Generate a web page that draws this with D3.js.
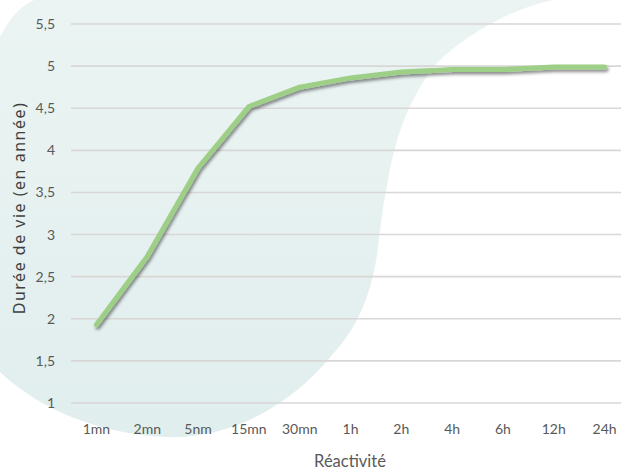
<!DOCTYPE html>
<html lang="fr">
    <head>
        <meta charset="utf-8">
        <title>Durée de vie</title>
        <script src="https://d3js.org/d3.v7.min.js"></script>
        <style type="text/css">
            body { margin: 0; background: #fff; }
            .axis text { font-family: Lato, "Open Sans", sans-serif; fill: #595959; }
        </style>
    </head>
    <body>
        <script type="text/javascript">

            const w = 621;
            const h = 471;

            // data
            const categories = ["1mn", "2mn", "5nm", "15mn", "30mn", "1h", "2h", "4h", "6h", "12h", "24h"];
            const duree = [1.93, 2.74, 3.79, 4.52, 4.75, 4.86, 4.93, 4.96, 4.96, 4.99, 4.99];
            const yTicks = [1, 1.5, 2, 2.5, 3, 3.5, 4, 4.5, 5, 5.5];

            const xScale = d3.scaleBand()
                             .domain(categories)
                             .range([71, 630]);

            const yScale = d3.scaleLinear()
                             .domain([1, 5.5])
                             .range([403, 24]);

            const svg = d3.select("body")
                          .append("svg")
                          .attr("width", w)
                          .attr("height", h);

            const defs = svg.append("defs");
            const grad = defs.append("linearGradient")
                             .attr("id", "blobGrad")
                             .attr("x1", 0).attr("y1", 0).attr("x2", 0).attr("y2", 1);
            grad.append("stop").attr("offset", "0%").attr("stop-color", "#ebf4f3");
            grad.append("stop").attr("offset", "100%").attr("stop-color", "#e0eeed");

            const shadow = defs.append("filter")
                               .attr("id", "shadow")
                               .attr("x", "-10%").attr("y", "-10%")
                               .attr("width", "120%").attr("height", "130%");
            shadow.append("feDropShadow")
                  .attr("dx", 1.5)
                  .attr("dy", 2.5)
                  .attr("stdDeviation", 1.6)
                  .attr("flood-color", "#000")
                  .attr("flood-opacity", 0.45);

            // decorative background shape
            svg.append("path")
               .attr("d", "M0,37 C10,18 20,6 34,0 L553,0 C505,10 460,40 438,62 " +
                          "C410,95 396,135 388,180 C381,215 380,235 377,255 " +
                          "C370,300 355,330 332,355 C300,395 240,440 167,437 " +
                          "C100,434 40,410 0,372 Z")
               .style("fill", "url(#blobGrad)");

            // gridlines
            svg.append("g")
               .selectAll("line")
               .data(yTicks)
               .enter()
               .append("line")
               .attr("x1", 71)
               .attr("x2", w)
               .attr("y1", d => yScale(d))
               .attr("y2", d => yScale(d))
               .style("stroke", "#d9d6d6")
               .style("stroke-width", 1.6);

            const leftAxis = d3.axisLeft(yScale)
                               .tickValues(yTicks)
                               .tickSize(0)
                               .tickPadding(16)
                               .tickFormat(d => String(d).replace(".", ","));

            const yAxis = svg.append("g")
               .attr("class", "axis")
               .attr("transform", "translate(71,0)")
               .call(leftAxis);
            yAxis.select(".domain").remove();
            yAxis.selectAll("text").style("font-size", "14px");

            const bottomAxis = d3.axisBottom(xScale)
                                 .tickSize(0)
                                 .tickPadding(21);

            const xAxis = svg.append("g")
               .attr("class", "axis")
               .attr("transform", "translate(0,403)")
               .call(bottomAxis);
            xAxis.select(".domain").remove();
            xAxis.selectAll("text").style("font-size", "14px");

            // line
            const line = d3.line()
                           .x((d, i) => xScale(categories[i]) + xScale.bandwidth() / 2)
                           .y(d => yScale(d));

            svg.append("path")
               .datum(duree)
               .attr("d", line)
               .attr("filter", "url(#shadow)")
               .style("fill", "none")
               .style("stroke", "#9ecf87")
               .style("stroke-width", 5)
               .style("stroke-linejoin", "round")
               .style("stroke-linecap", "round");

            // titles
            svg.append("text")
               .attr("x", 350)
               .attr("y", 467)
               .attr("text-anchor", "middle")
               .style("font-family", "Lato, sans-serif")
               .style("font-size", "16.5px")
               .style("fill", "#595959")
               .text("Réactivité");

            svg.append("text")
               .attr("transform", "translate(25,208) rotate(-90)")
               .attr("text-anchor", "middle")
               .style("font-family", "'Noto Sans', sans-serif")
               .style("font-size", "16px")
               .style("letter-spacing", "1.5px")
               .style("fill", "#404040")
               .text("Durée de vie (en année)");

        </script>
    </body>
</html>
